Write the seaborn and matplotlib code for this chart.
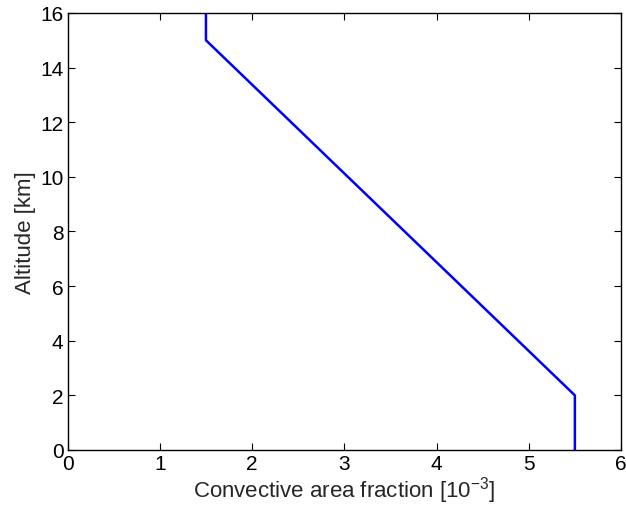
import matplotlib
matplotlib.use("Agg")
import matplotlib.pyplot as plt
import seaborn as sns
import pandas as pd

# Convective area fraction profile (units of 1e-3) versus altitude (km)
fraction = [5.5, 5.5, 1.5, 1.5]
altitude = [0, 2, 15, 16]

x_ticks = [0, 1, 2, 3, 4, 5, 6]
y_ticks = [0, 2, 4, 6, 8, 10, 12, 14, 16]

sns.set_theme(style="ticks")
plt.rcParams["font.family"] = ["Liberation Sans", "DejaVu Sans"]
plt.rcParams["mathtext.fontset"] = "custom"
plt.rcParams["mathtext.rm"] = "Liberation Sans"
plt.rcParams["mathtext.it"] = "Liberation Sans"

df = pd.DataFrame({"fraction": fraction, "altitude": altitude})

fig = plt.figure(figsize=(6.26, 5.10), dpi=100)
ax = fig.add_axes([0.108, 0.1157, 0.884, 0.857])

sns.lineplot(data=df, x="fraction", y="altitude", sort=False, estimator=None,
             color="#0000ff", linewidth=1.8, ax=ax)

ax.set_xlim(0, 6)
ax.set_ylim(0, 16)
ax.set_xticks(x_ticks)
ax.set_yticks(y_ticks)
ax.tick_params(direction="in", top=True, right=True, length=5, width=0.8,
               labelsize=15, colors="black", pad=3)
for s in ax.spines.values():
    s.set_linewidth(1.0)
    s.set_color("black")
    s.set_visible(True)

ax.set_xlabel(r"Convective area fraction [10$^{-3}$]", fontsize=16, labelpad=1)
ax.set_ylabel("Altitude [km]", fontsize=16, labelpad=3)

fig.savefig("out.png", dpi=100, facecolor="white")
